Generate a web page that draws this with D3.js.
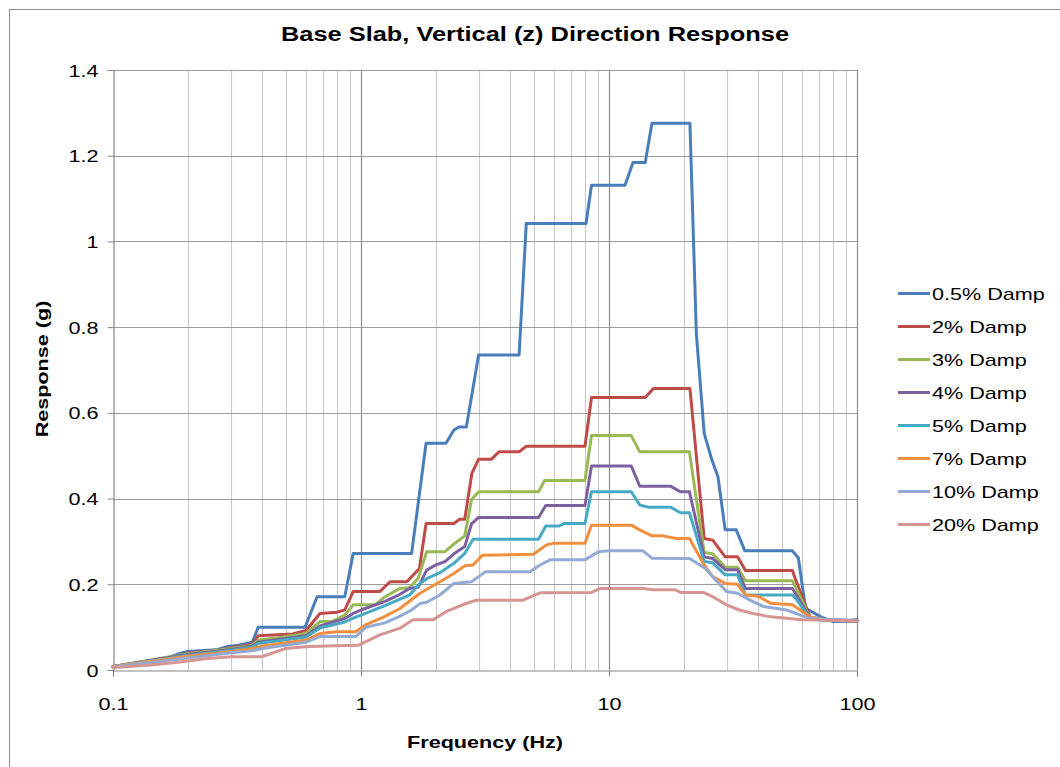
<!DOCTYPE html>
<html>
<head>
<meta charset="utf-8">
<script src="https://cdn.jsdelivr.net/npm/d3@7"></script>
<style>
  html, body { margin: 0; padding: 0; background: #fff; }
  svg { display: block; }
  text { font-family: "Liberation Sans", Arial, sans-serif; fill: #000; }
</style>
</head>
<body>
<div id="chart"></div>
<script>
// Response spectra of the base slab, vertical direction: [frequency Hz, response g]
const damp05 = [[0.1,0.008],[0.12,0.012],[0.15,0.02],[0.18,0.036],[0.2,0.043],[0.26,0.047],[0.29,0.055],[0.32,0.058],[0.365,0.065],[0.385,0.1],[0.595,0.1],[0.665,0.171],[0.86,0.171],[0.93,0.272],[1.6,0.272],[1.83,0.529],[2.2,0.529],[2.37,0.56],[2.48,0.567],[2.66,0.567],[2.98,0.735],[4.34,0.735],[4.64,1.042],[8.08,1.042],[8.5,1.131],[11.6,1.131],[12.5,1.184],[14.0,1.184],[14.9,1.276],[21.2,1.276],[22.5,0.785],[24.2,0.552],[26.0,0.49],[27.5,0.451],[29.4,0.327],[32.6,0.327],[35.3,0.278],[54.9,0.278],[58,0.262],[62,0.144],[71.6,0.124],[80,0.113],[90,0.114],[100,0.118]];
const damp2 = [[0.1,0.008],[0.14,0.013],[0.2,0.04],[0.26,0.045],[0.3,0.052],[0.365,0.06],[0.385,0.08],[0.53,0.084],[0.6,0.092],[0.683,0.132],[0.8,0.135],[0.86,0.14],[0.93,0.183],[1.19,0.183],[1.31,0.206],[1.53,0.206],[1.72,0.237],[1.83,0.342],[2.37,0.342],[2.5,0.352],[2.62,0.352],[2.8,0.459],[2.98,0.492],[3.36,0.492],[3.6,0.509],[4.34,0.509],[4.64,0.522],[8.0,0.522],[8.5,0.636],[14.0,0.636],[15.1,0.657],[21.2,0.657],[24.2,0.307],[26.2,0.303],[29.4,0.264],[33,0.264],[35.5,0.232],[54.9,0.232],[56.3,0.214],[64.7,0.123],[75,0.117],[100,0.115]];
const damp3 = [[0.1,0.008],[0.2,0.038],[0.3,0.05],[0.365,0.058],[0.385,0.07],[0.45,0.074],[0.6,0.085],[0.683,0.113],[0.77,0.114],[0.86,0.128],[0.93,0.152],[1.14,0.152],[1.25,0.171],[1.43,0.19],[1.57,0.192],[1.7,0.214],[1.84,0.276],[2.18,0.276],[2.37,0.294],[2.62,0.313],[2.79,0.397],[2.98,0.416],[5.2,0.416],[5.5,0.442],[8.0,0.442],[8.5,0.547],[12.3,0.547],[13.3,0.509],[21.1,0.509],[24.2,0.274],[26.2,0.271],[29.4,0.24],[33,0.24],[35.5,0.208],[54.9,0.208],[57,0.19],[64.7,0.12],[75,0.116],[100,0.114]];
const damp4 = [[0.1,0.008],[0.2,0.036],[0.3,0.048],[0.365,0.056],[0.385,0.065],[0.6,0.08],[0.683,0.103],[0.86,0.12],[0.93,0.132],[1.0,0.14],[1.25,0.16],[1.43,0.176],[1.57,0.19],[1.7,0.193],[1.84,0.233],[2.0,0.245],[2.18,0.253],[2.37,0.271],[2.62,0.288],[2.79,0.341],[2.98,0.356],[5.2,0.356],[5.56,0.384],[8.0,0.384],[8.5,0.476],[12.3,0.476],[13.3,0.429],[17.7,0.429],[19.4,0.416],[21.1,0.416],[24.2,0.264],[26.2,0.26],[29.4,0.234],[33,0.234],[35.5,0.19],[54.9,0.19],[57,0.175],[64.7,0.12],[75,0.116],[100,0.114]];
const damp5 = [[0.1,0.008],[0.2,0.034],[0.3,0.046],[0.365,0.054],[0.385,0.062],[0.6,0.077],[0.683,0.098],[0.86,0.112],[0.93,0.121],[1.0,0.128],[1.25,0.15],[1.43,0.165],[1.57,0.175],[1.73,0.202],[1.84,0.213],[2.08,0.227],[2.37,0.249],[2.62,0.272],[2.83,0.305],[5.2,0.305],[5.56,0.336],[6.3,0.336],[6.6,0.342],[8.0,0.342],[8.5,0.416],[12.3,0.416],[13.3,0.385],[14.4,0.38],[17.7,0.38],[19.4,0.367],[21.1,0.367],[24.2,0.253],[26.2,0.25],[29.4,0.222],[33,0.222],[35.5,0.175],[54.9,0.175],[57,0.165],[64.7,0.12],[75,0.116],[100,0.116]];
const damp7 = [[0.1,0.008],[0.2,0.032],[0.3,0.043],[0.365,0.05],[0.4,0.056],[0.6,0.07],[0.683,0.085],[0.8,0.089],[0.95,0.089],[1.05,0.106],[1.25,0.125],[1.43,0.143],[1.73,0.179],[2.08,0.206],[2.37,0.225],[2.62,0.243],[2.83,0.245],[3.09,0.268],[4.96,0.27],[5.6,0.292],[6.0,0.296],[8.0,0.296],[8.5,0.338],[12.3,0.338],[13.3,0.327],[14.9,0.313],[16.5,0.313],[18.7,0.307],[21.1,0.307],[24.2,0.245],[26.2,0.218],[29.4,0.202],[33,0.2],[35.5,0.175],[40,0.172],[44.8,0.156],[54.9,0.152],[64.7,0.124],[75,0.117],[100,0.115]];
const damp10 = [[0.1,0.007],[0.2,0.028],[0.3,0.04],[0.365,0.045],[0.4,0.05],[0.6,0.065],[0.683,0.078],[0.95,0.078],[1.05,0.1],[1.25,0.11],[1.43,0.125],[1.6,0.14],[1.73,0.155],[1.84,0.158],[2.08,0.175],[2.37,0.202],[2.79,0.206],[3.17,0.229],[4.8,0.229],[5.27,0.245],[5.79,0.257],[8.0,0.257],[9.05,0.276],[10,0.278],[13.7,0.278],[14.9,0.261],[21.1,0.26],[24.5,0.237],[27.3,0.206],[29.8,0.183],[33,0.179],[37,0.163],[42,0.148],[52,0.14],[64.7,0.12],[100,0.115]];
const damp20 = [[0.1,0.006],[0.139,0.011],[0.183,0.018],[0.235,0.026],[0.3,0.031],[0.398,0.031],[0.495,0.05],[0.595,0.054],[0.715,0.056],[0.98,0.058],[1.19,0.082],[1.43,0.097],[1.62,0.117],[1.95,0.117],[2.2,0.136],[2.37,0.144],[2.62,0.154],[2.92,0.163],[4.5,0.163],[5.27,0.18],[8.5,0.181],[9.2,0.19],[13.7,0.19],[15,0.187],[18.5,0.187],[19.4,0.181],[24,0.181],[26.2,0.171],[29.8,0.152],[33.5,0.14],[38,0.132],[45,0.124],[60,0.117],[100,0.115]];

const seriesNames = ["0.5% Damp","2% Damp","3% Damp","4% Damp","5% Damp","7% Damp","10% Damp","20% Damp"];
const seriesData = [damp05, damp2, damp3, damp4, damp5, damp7, damp10, damp20];
const seriesColors = ["#4A7EBB","#BE4B48","#98B954","#7D60A0","#46AAC5","#F0903F","#93AAD4","#D49593"];

const yTickValues = [0, 0.2, 0.4, 0.6, 0.8, 1, 1.2, 1.4];
const yTickLabels = ["0","0.2","0.4","0.6","0.8","1","1.2","1.4"];
const xTickValues = [0.1, 1, 10, 100];
const xTickLabels = ["0.1","1","10","100"];

const titleText = "Base Slab, Vertical (z) Direction Response";
const xTitle = "Frequency (Hz)";
const yTitle = "Response (g)";

// ---- drawing ----
const W = 1060, H = 767;
const plot = { left: 113, right: 857, top: 70, bottom: 670 };
const SX = 1.27; // lettering is drawn wide along its reading direction

const svg = d3.select("#chart").append("svg").attr("width", W).attr("height", H);

// chart frame
svg.append("rect").attr("x", 9.5).attr("y", 9.5).attr("width", W + 20).attr("height", H + 20)
  .attr("fill", "#fff").attr("stroke", "#8c8c8c").attr("stroke-width", 1);

const x = d3.scaleLog().domain([0.1, 100]).range([plot.left, plot.right]);
const y = d3.scaleLinear().domain([0, 1.4]).range([plot.bottom, plot.top]);

// vertical grid: minor lines for every integer multiple in each decade, stronger at decades
const minorFreqs = [];
[0.1, 1, 10].forEach(d => { for (let k = 2; k <= 9; k++) minorFreqs.push(d * k); });
const grid = svg.append("g");
grid.selectAll("line.vminor").data(minorFreqs).join("line")
  .attr("x1", d => Math.round(x(d)) + 0.5).attr("x2", d => Math.round(x(d)) + 0.5)
  .attr("y1", plot.top).attr("y2", plot.bottom)
  .attr("stroke", "#c9c9c9").attr("stroke-width", 1.2);
grid.selectAll("line.vmajor").data(xTickValues.slice(1)).join("line")
  .attr("x1", d => Math.round(x(d)) + 0.5).attr("x2", d => Math.round(x(d)) + 0.5)
  .attr("y1", plot.top).attr("y2", plot.bottom)
  .attr("stroke", "#8e8e8e").attr("stroke-width", 1.2);
grid.selectAll("line.h").data(yTickValues.slice(1)).join("line")
  .attr("x1", plot.left).attr("x2", plot.right)
  .attr("y1", d => Math.round(y(d)) + 0.5).attr("y2", d => Math.round(y(d)) + 0.5)
  .attr("stroke", "#9c9c9c").attr("stroke-width", 1.2);

// axes
const yAxis = d3.axisLeft(y).tickValues(yTickValues)
  .tickFormat((d, i) => yTickLabels[i]).tickSize(6).tickPadding(0);
const gy = svg.append("g").attr("transform", `translate(${plot.left + 0.5},0)`).call(yAxis);
gy.select(".domain").attr("stroke", "#868686").attr("stroke-width", 1.2);
gy.selectAll(".tick line").attr("stroke", "#868686");
gy.selectAll(".tick text")
  .attr("x", null).attr("dy", null)
  .attr("transform", `translate(-15,6) scale(${SX},1)`)
  .style("font-size", "17px").attr("text-anchor", "end");

const xAxis = d3.axisBottom(x).tickValues(xTickValues)
  .tickFormat((d, i) => xTickLabels[i]).tickSize(6).tickPadding(0);
const gx = svg.append("g").attr("transform", `translate(0,${plot.bottom + 0.5})`).call(xAxis);
gx.selectAll(".tick").attr("transform", d => `translate(${Math.round(x(d)) + 0.5},0)`);
gx.select(".domain").attr("stroke", "#868686").attr("stroke-width", 1.2);
gx.selectAll(".tick line").attr("stroke", "#868686");
gx.selectAll(".tick text")
  .attr("y", null).attr("dy", null)
  .attr("transform", `translate(0,39) scale(${SX},1)`)
  .style("font-size", "17px").attr("text-anchor", "middle");

// series lines
const line = d3.line().x(d => x(d[0])).y(d => y(d[1]));
svg.append("g").selectAll("path").data(seriesData).join("path")
  .attr("d", line)
  .attr("fill", "none")
  .attr("stroke", (d, i) => seriesColors[i])
  .attr("stroke-width", 3)
  .attr("stroke-linejoin", "round")
  .attr("stroke-linecap", "round");

// titles
svg.append("text").attr("transform", `translate(535,41) scale(${SX},1)`)
  .attr("text-anchor", "middle").style("font-size", "20px").style("font-weight", "bold")
  .text(titleText);
svg.append("text").attr("transform", `translate(485,748) scale(${SX},1)`)
  .attr("text-anchor", "middle").style("font-size", "17px").style("font-weight", "bold")
  .text(xTitle);
svg.append("text").attr("transform", `translate(48,369) scale(1,${SX}) rotate(-90)`)
  .attr("text-anchor", "middle").style("font-size", "17px").style("font-weight", "bold")
  .text(yTitle);

// legend
const legend = svg.append("g").selectAll("g").data(seriesNames).join("g")
  .attr("transform", (d, i) => `translate(898,${293.5 + i * 33})`);
legend.append("line").attr("x1", 0).attr("x2", 32).attr("y1", 0).attr("y2", 0)
  .attr("stroke", (d, i) => seriesColors[i]).attr("stroke-width", 3);
legend.append("text").attr("transform", `translate(34,6) scale(${SX},1)`)
  .style("font-size", "17px").text(d => d);
</script>
</body>
</html>
